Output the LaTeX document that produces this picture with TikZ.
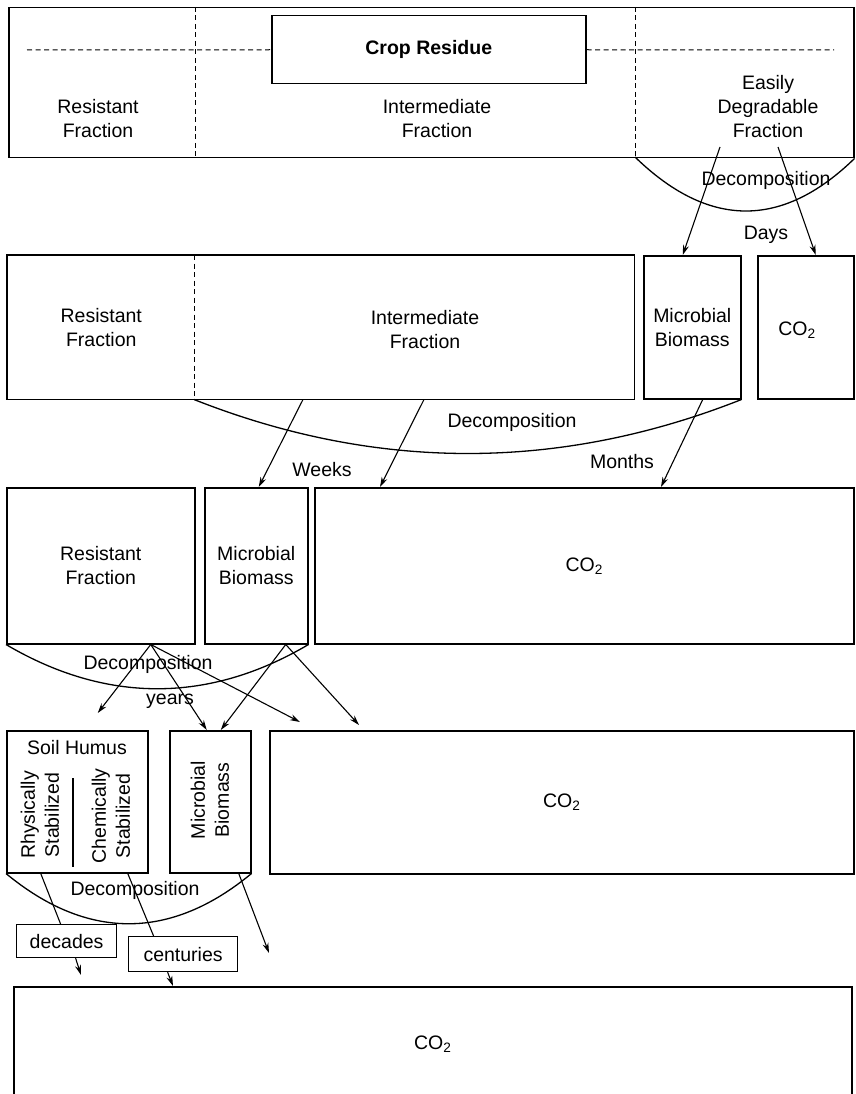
\documentclass[tikz,border=0pt]{standalone}
\usepackage{fontspec}
\setmainfont{Liberation Sans}
\usetikzlibrary{positioning,arrows.meta}

\begin{document}
\begin{tikzpicture}[
    x=1pt, y=-1pt,
    font=\fontsize{19.5}{24}\selectfont,
    box/.style={rectangle, draw=black, line width=1.5pt, inner sep=0pt, anchor=north west, align=center},
    tag/.style={align=center, inner sep=1pt},
    divider/.style={line width=1pt, dash pattern=on 5pt off 3.5pt},
    bracket/.style={line width=1.3pt},
    link/.style={line width=1.1pt},
    arrow/.style={link, -{Stealth[length=10pt, width=6pt]}}
]

\useasboundingbox (0,0) rectangle (855,1094);

% Stage 1: crop residue
\node[box, minimum width=845pt, minimum height=150pt] (row1) at (8,7) {};
\node[box, minimum width=314pt, minimum height=68pt, font=\fontsize{19.5}{24}\selectfont\bfseries] (crop) at (271,15) {Crop Residue};
\draw[divider] (195,7) -- (195,157);
\draw[divider] (635,7) -- (635,157);
\draw[divider] (27,50) -- (crop.west);
\draw[divider] (crop.east) -- (834,50);
\node[tag] (res1) at (98,119) {Resistant\\Fraction};
\node[tag] (int1) at (437,119) {Intermediate\\Fraction};
\node[tag] (easy1) at (768,107) {Easily\\Degradable\\Fraction};

\coordinate (cut1) at (635,157);
\draw[bracket] (cut1) .. controls +(73,71) and +(-73,71) .. (row1.south east);
\node[tag] (dec1) at (766,180) {Decomposition};
\node[tag] (days) at (766,235) {Days};

% Stage 2: after days
\node[box, draw=none, minimum width=187pt, minimum height=143pt] (res2) at (7,255) {Resistant\\Fraction};
\node[box, draw=none, minimum width=439pt, minimum height=143pt] (int2) at (194,255) {};
\node[tag] (intlab2) at (425,330) {Intermediate\\Fraction};
\draw[line width=1.5pt] (res2.north west) rectangle (int2.south east);
\draw[divider] (int2.north west) -- (int2.south west);
\node[box, minimum width=97pt, minimum height=143pt] (mb2) at (643,255) {Microbial\\Biomass};
\node[box, minimum width=96pt, minimum height=143pt] (co22) at (757,255) {};
\node[tag] (colab2) at (797,330) {CO\textsubscript{2}};

\coordinate (easyL) at (720,147);
\coordinate (easyR) at (778,147);
\draw[arrow] (easyL) -- ([xshift=-9.5pt]mb2.north);
\draw[arrow] (easyR) -- ([xshift=10pt]co22.north);

\draw[bracket] (int2.south west) .. controls +(182,72) and +(-182,72) .. (mb2.south east);
\node[tag] (dec2) at (512,422) {Decomposition};
\node[tag] (weeks) at (322,470) {Weeks};
\node[tag] (months) at (622,462) {Months};

% Stage 3: after weeks and months
\node[box, minimum width=188pt, minimum height=156pt] (res3) at (6,487) {Resistant\\Fraction};
\node[box, minimum width=103pt, minimum height=156pt] (mb3) at (204,487) {Microbial\\Biomass};
\node[box, minimum width=539pt, minimum height=156pt] (co23) at (314,487) {CO\textsubscript{2}};

\draw[arrow] ([xshift=109pt]int2.south west) -- ([xshift=2.5pt]mb3.north);
\draw[arrow] ([xshift=230pt]int2.south west) -- ([xshift=66pt]co23.north west);
\draw[arrow] ([xshift=10.5pt]mb2.south) -- ([xshift=347pt]co23.north west);

\draw[bracket] (res3.south west) .. controls +(100,59) and +(-100,59) .. (mb3.south east);
\node[tag] (dec3) at (148,664) {Decomposition};
\node[tag] (years) at (170,701) {years};

% Stage 4: after years
\node[box, minimum width=141pt, minimum height=142pt] (humus) at (6,730) {};
\node[tag] (humuslab) at (77,748) {Soil Humus};
\node[tag, rotate=90] (phys) at (40,815) {Rhysically\\Stabilized};
\node[tag, rotate=90] (chem) at (111,816) {Chemically\\Stabilized};
\draw[line width=1.2pt] (73,778) -- (73,867);
\node[box, minimum width=81pt, minimum height=142pt] (mb4) at (169,730) {};
\node[tag, rotate=90] (mblab4) at (210,800) {Microbial\\Biomass};
\node[box, minimum width=584pt, minimum height=143pt] (co24) at (269,730) {CO\textsubscript{2}};

\coordinate (fork3) at ([xshift=50pt]res3.south);
\coordinate (fork3b) at ([xshift=29.5pt]mb3.south);
\draw[arrow] (fork3) -- ([xshift=20.5pt, yshift=17pt]humus.north);
\draw[arrow] (fork3) -- ([xshift=-3.5pt]mb4.north);
\draw[arrow] (fork3) -- ([xshift=31pt, yshift=8pt]co24.north west);
\draw[arrow] (fork3b) -- ([xshift=10.5pt]mb4.north);
\draw[arrow] (fork3b) -- ([xshift=90pt, yshift=5pt]co24.north west);

\draw[bracket] (humus.south west) .. controls +(81,67) and +(-81,67) .. (mb4.south east);
\node[tag] (dec4) at (135,890) {Decomposition};

% Stage 5: decades and centuries
\node[box, line width=1.2pt, minimum width=100pt, minimum height=33pt] (decades) at (16,924) {decades};
\node[box, line width=1.2pt, minimum width=109pt, minimum height=35pt] (centuries) at (128,936) {centuries};
\node[box, minimum width=838pt, minimum height=114pt] (co25) at (13,986) {CO\textsubscript{2}};

\draw[link] ([xshift=-36.5pt]humus.south) -- ([xshift=-6pt]decades.north);
\draw[link] ([xshift=50.5pt]humus.south) -- ([xshift=-29.5pt]centuries.north);
\draw[arrow] ([xshift=9pt]decades.south) -- ([xshift=68pt, yshift=11pt]co25.north west);
\draw[arrow] ([xshift=-15.5pt]centuries.south) -- ([xshift=160pt]co25.north west);
\draw[arrow] ([xshift=28.5pt]mb4.south) -- ([xshift=256pt, yshift=33pt]co25.north west);

\end{tikzpicture}
\end{document}
